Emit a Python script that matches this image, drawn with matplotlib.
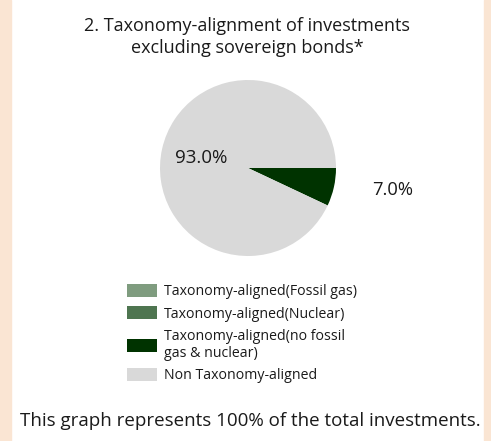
import matplotlib.pyplot as plt
from matplotlib.patches import Rectangle

# data
labels = ['Taxonomy-aligned(Fossil gas)', 'Taxonomy-aligned(Nuclear)',
          'Taxonomy-aligned(no fossil\ngas & nuclear)', 'Non Taxonomy-aligned']
values = [0.0, 0.0, 7.0, 93.0]
colors = ['#7F9C7F', '#4E7550', '#003300', '#D9D9D9']
title = '2. Taxonomy-alignment of investments\nexcluding sovereign bonds*'
note = 'This graph represents 100% of the total investments.'

plt.rcParams['font.family'] = ['Open Sans', 'DejaVu Sans']

W, H = 491, 441
fig = plt.figure(figsize=(W / 100, H / 100), dpi=100)

# beige side strips
fig.patches.append(Rectangle((0, 0), 11 / W, 1, transform=fig.transFigure,
                             color='#FAE5D3', zorder=0))
fig.patches.append(Rectangle((484 / W, 0), 7 / W, 1, transform=fig.transFigure,
                             color='#FAE5D3', zorder=0))

cx, cy, r = 248, 168, 88
ax = fig.add_axes([(cx - r) / W, 1 - (cy + r) / H, 2 * r / W, 2 * r / H])
wedges, _ = ax.pie(values, colors=colors, startangle=0, counterclock=False,
                   radius=1, wedgeprops=dict(linewidth=0))
ax.set_xlim(-1, 1)
ax.set_ylim(-1, 1)
ax.set_aspect('equal')
ax.axis('off')

ax.text(-0.53, 0.11, f'{values[3]:.1f}%', ha='center', va='center', fontsize=13.5, color='#1a1a1a')
ax.text(1.64, -0.25, f'{values[2]:.1f}%', ha='center', va='center', fontsize=13.2,
        color='#1a1a1a', clip_on=False)

fig.text(247 / W, 1 - 37 / H, title, ha='center', va='center', fontsize=13,
         linespacing=1.25, color='#1a1a1a')

fig.legend(wedges, labels, loc='upper left', bbox_to_anchor=(120 / W, 1 - 277 / H),
           frameon=False, fontsize=10.2, handlelength=2.1, handleheight=1.0,
           handletextpad=0.5, labelspacing=0.5, borderpad=0, labelcolor='#1a1a1a')

fig.text(250 / W, 1 - 421 / H, note, ha='center', va='center', fontsize=13.5,
         color='#1a1a1a')

fig.savefig('out.png', dpi=100)
